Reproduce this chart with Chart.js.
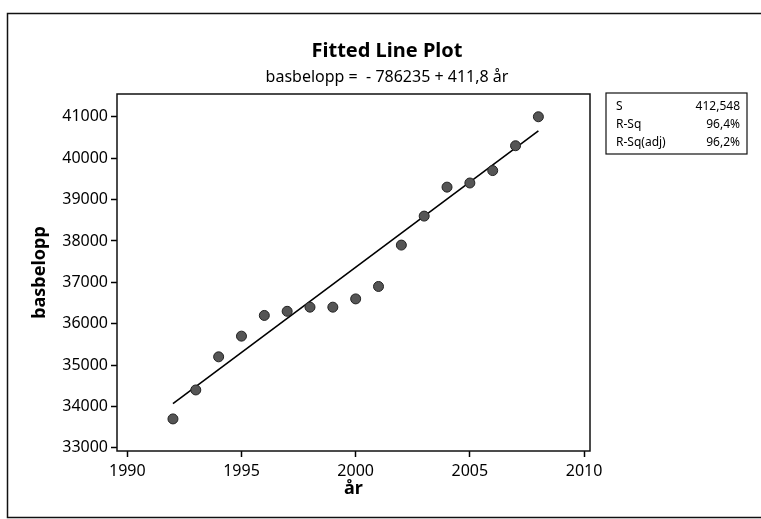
<!DOCTYPE html>
<html>
<head>
<meta charset="utf-8">
<script src="https://cdn.jsdelivr.net/npm/chart.js@4"></script>
<style>
  body { margin: 0; background: #fff; }
  canvas { display: block; }
</style>
</head>
<body>
<canvas id="chart" width="761" height="519"></canvas>
<script>
// basbelopp per year
const years = [1992, 1993, 1994, 1995, 1996, 1997, 1998, 1999, 2000, 2001, 2002, 2003, 2004, 2005, 2006, 2007, 2008];
const basbelopp = [33700, 34400, 35200, 35700, 36200, 36300, 36400, 36400, 36600, 36900, 37900, 38600, 39300, 39400, 39700, 40300, 41000];

// fitted line end points (1992 and 2008)
const fitYears = [1992, 2008];
const fitValues = [34071, 40659];

const xTicks = [1990, 1995, 2000, 2005, 2010];
const yTicks = [33000, 34000, 35000, 36000, 37000, 38000, 39000, 40000, 41000];

const statLabels = ["S", "R-Sq", "R-Sq(adj)"];
const statValues = ["412,548", "96,4%", "96,2%"];

const FONT = "'Noto Sans', sans-serif";

// title, stats box and frames
const decorations = {
  id: "decorations",
  afterDraw(chart) {
    const ctx = chart.ctx;
    const a = chart.chartArea;
    ctx.save();
    ctx.strokeStyle = "#111";
    ctx.lineWidth = 1.5;
    // plot frame
    ctx.strokeRect(a.left, a.top, a.right - a.left, a.bottom - a.top);
    // outer page frame
    ctx.beginPath();
    ctx.moveTo(761, 13.5);
    ctx.lineTo(7.5, 13.5);
    ctx.lineTo(7.5, 517.5);
    ctx.lineTo(761, 517.5);
    ctx.stroke();

    ctx.fillStyle = "#000";
    ctx.textAlign = "center";
    ctx.textBaseline = "alphabetic";
    ctx.font = "bold 20px " + FONT;
    ctx.fillText("Fitted Line Plot", 387, 57);
    ctx.font = "16px " + FONT;
    ctx.fillText("basbelopp =  - 786235 + 411,8 år", 387, 82);

    // stats box
    ctx.lineWidth = 1.2;
    ctx.strokeRect(606, 93, 141, 61);
    ctx.font = "12px " + FONT;
    statLabels.forEach((lab, i) => {
      const y = 110 + i * 18;
      ctx.textAlign = "left";
      ctx.fillText(lab, 616, y);
      ctx.textAlign = "right";
      ctx.fillText(statValues[i], 740, y);
    });
    ctx.restore();
  },
};

const ctx = document.getElementById("chart").getContext("2d");

new Chart(ctx, {
  type: "scatter",
  data: {
    datasets: [
      {
        label: "basbelopp",
        data: years.map((yr, i) => ({ x: yr, y: basbelopp[i] })),
        pointRadius: 5,
        pointBackgroundColor: "#555",
        pointBorderColor: "#222",
        pointBorderWidth: 1,
        showLine: false,
      },
      {
        label: "fit",
        data: fitYears.map((yr, i) => ({ x: yr, y: fitValues[i] })),
        showLine: true,
        borderColor: "#000",
        borderWidth: 1.6,
        pointRadius: 0,
      },
    ],
  },
  options: {
    responsive: false,
    animation: false,
    layout: {
      padding: { left: 0, right: 171, top: 94, bottom: 0 },
    },
    plugins: {
      legend: { display: false },
      tooltip: { enabled: false },
    },
    scales: {
      x: {
        type: "linear",
        min: 1989.55,
        max: 2010.26,
        afterBuildTicks: (scale) => {
          scale.ticks = xTicks.map((v) => ({ value: v }));
        },
        afterFit: (scale) => {
          scale.height = 68;
        },
        border: { display: false },
        grid: {
          drawOnChartArea: false,
          tickLength: 6,
          tickColor: "#000",
          tickWidth: 1.5,
        },
        ticks: {
          color: "#000",
          font: { family: FONT, size: 16 },
          padding: 5,
          maxRotation: 0,
          callback: (v) => String(v),
        },
        title: {
          display: true,
          text: "år",
          color: "#000",
          font: { family: FONT, size: 18, weight: "bold" },
          padding: { top: 19, bottom: 19 },
        },
      },
      y: {
        type: "linear",
        min: 32925,
        max: 41550,
        afterBuildTicks: (scale) => {
          scale.ticks = yTicks.map((v) => ({ value: v }));
        },
        afterFit: (scale) => {
          scale.width = 117;
        },
        border: { display: false },
        grid: {
          drawOnChartArea: false,
          tickLength: 6,
          tickColor: "#000",
          tickWidth: 1.5,
        },
        ticks: {
          color: "#000",
          font: { family: FONT, size: 16 },
          padding: 3,
          callback: (v) => String(v),
        },
        title: {
          display: true,
          text: "basbelopp",
          color: "#000",
          font: { family: FONT, size: 18, weight: "bold" },
          padding: { top: 29, bottom: 29 },
        },
      },
    },
  },
  plugins: [decorations],
});
</script>
</body>
</html>
